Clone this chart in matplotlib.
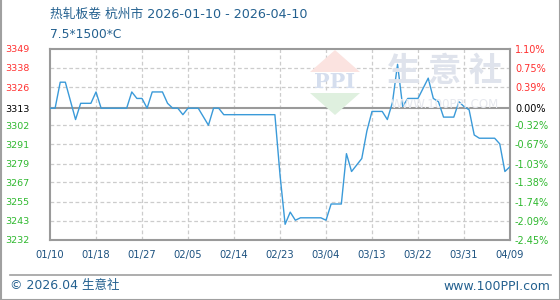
import matplotlib
matplotlib.use("Agg")
import matplotlib.pyplot as plt
from matplotlib.patches import Polygon
from datetime import date, timedelta

plt.rcParams['font.family'] = ['DejaVu Sans', 'Noto Sans CJK SC']

# price series (vertices), day offset from 2026-01-10
days = [0, 1, 2, 3, 5, 6, 8, 9, 10, 15, 16, 17, 18, 19, 20, 22, 23, 24, 25, 26,
        27, 29, 31, 32, 33, 34, 44, 45, 46, 47, 48, 49, 53, 54, 55, 57, 58, 59,
        61, 62, 63, 65, 66, 67, 68, 69, 70, 72, 74, 75, 76, 77, 79, 80, 81, 82,
        83, 84, 87, 88, 89, 90]
prices = [3313, 3313, 3329, 3329, 3306, 3316, 3316, 3323, 3313, 3313, 3323, 3319,
          3319, 3313, 3323, 3323, 3316, 3313, 3313, 3309, 3313, 3313, 3302.5, 3313,
          3313, 3309, 3309, 3272, 3241.5, 3249, 3244, 3245.5, 3245.5, 3244, 3254,
          3254, 3285, 3274, 3282, 3299, 3311, 3311, 3306, 3316.5, 3340, 3314, 3319,
          3319, 3331.5, 3319, 3317, 3307.5, 3307.5, 3317, 3314, 3312, 3296.5,
          3294.5, 3294.5, 3291, 3274, 3277]

start = date(2026, 1, 10)
base_price = 3313
pct_ticks = [1.10, 0.75, 0.39, 0.00, -0.32, -0.67, -1.03, -1.38, -1.74, -2.09, -2.45]
price_labels = ['3349', '3338', '3326', '3313', '3302', '3291', '3279', '3267',
                '3255', '3243', '3232']
x_labels = ['01/10', '01/18', '01/27', '02/05', '02/14', '02/23', '03/04',
            '03/13', '03/22', '03/31', '04/09']

title = '热轧板卷 杭州市 2026-01-10 - 2026-04-10'
subtitle = '7.5*1500*C'

W, H = 560, 300
fig = plt.figure(figsize=(W / 100, H / 100), dpi=100)
fig.patch.set_facecolor('white')
ax = fig.add_axes([50 / W, 60 / H, 460 / W, 191 / H])

dates = [start + timedelta(days=d) for d in days]
xs = [(d - start).days for d in dates]

tick_vals = [base_price * (1 + p / 100) for p in pct_ticks]
ax.set_ylim(tick_vals[-1], tick_vals[0])
ax.set_xlim(0, 90)

# watermark
wm = '#dfe3ec'
fig.text(445 / W, 1 - 71 / H, '生 意 社', fontsize=24, color=wm, ha='center',
         va='center', fontweight='bold', zorder=0, family='Noto Sans CJK SC')
fig.text(445 / W, 1 - 105 / H, 'WWW.100PPI.COM', fontsize=8.5, color='#e6e8ee',
         ha='center', va='center', zorder=0)
tri_up = Polygon([[310 / W, 1 - 72 / H], [335 / W, 1 - 50 / H], [360 / W, 1 - 72 / H]],
                 closed=True, transform=fig.transFigure, facecolor='#fbe3e0',
                 edgecolor='none', zorder=0)
tri_dn = Polygon([[310 / W, 1 - 93 / H], [335 / W, 1 - 115 / H], [360 / W, 1 - 93 / H]],
                 closed=True, transform=fig.transFigure, facecolor='#dff0df',
                 edgecolor='none', zorder=0)
fig.patches.extend([tri_up, tri_dn])
fig.text(335 / W, 1 - 82 / H, 'PPI', fontsize=15, color='#d5deee', ha='center',
         va='center', family='DejaVu Serif', fontweight='bold', zorder=0)
ax.patch.set_alpha(0)

# grid
for i, v in enumerate(tick_vals):
    if pct_ticks[i] == 0:
        ax.axhline(v, color='#9a9a9a', lw=1.5, zorder=2)
    elif 0 < i < len(tick_vals) - 1:
        ax.axhline(v, color='#cccccc', lw=0.9, ls=(0, (3, 2)), zorder=1)
for k in range(1, 10):
    ax.axvline(k * 9, color='#cccccc', lw=0.9, ls=(0, (3, 2)), zorder=1)

ax.plot(xs, prices, color='#3a9ad9', lw=1.0, zorder=3)

for s in ax.spines.values():
    s.set_color('#9a9a9a')
    s.set_linewidth(1.5)

ax.set_yticks(tick_vals)
ax.set_yticklabels(price_labels)
ax.tick_params(axis='y', length=0, pad=15, labelsize=6.8)
ax.set_xticks([k * 9 for k in range(11)])
ax.set_xticklabels(x_labels)
ax.tick_params(axis='x', length=0, pad=7, labelsize=7.2, labelcolor='#1d5280')

ax2 = ax.twinx()
ax2.set_ylim(ax.get_ylim())
ax2.set_yticks(tick_vals)
ax2.set_yticklabels(['%.2f%%' % p for p in pct_ticks])
ax2.tick_params(axis='y', length=0, pad=3.6, labelsize=7)
for s in ax2.spines.values():
    s.set_visible(False)

for i, p in enumerate(pct_ticks):
    c = '#ff3030' if p > 0 else ('#000000' if p == 0 else '#2eb82e')
    ax.get_yticklabels()[i].set_color(c)
    ax2.get_yticklabels()[i].set_color(c)

# titles
fig.text(50 / W, 1 - 14 / H, title, fontsize=9.2, color='#23608f', va='center')
fig.text(50 / W, 1 - 34 / H, subtitle, fontsize=8.8, color='#23608f', va='center')

# footer
fig.add_artist(plt.Line2D([10 / W, 551 / W], [1 - 275 / H, 1 - 275 / H],
                          transform=fig.transFigure, color='#a0a0a0', lw=1.2))
fig.text(10 / W, 1 - 286 / H, '© 2026.04 生意社', fontsize=9, color='#23608f',
         va='center')
fig.text(550 / W, 1 - 286 / H, 'www.100PPI.com', fontsize=9, color='#23608f',
         va='center', ha='right')
# outer frame
for xy in ([[0.5 / W, 0.5 / W], [0, 1]], [[1 - 0.5 / W, 1 - 0.5 / W], [0, 1]],
           [[0, 1], [0.5 / H, 0.5 / H]]):
    fig.add_artist(plt.Line2D(xy[0], xy[1], transform=fig.transFigure,
                              color='#a0a0a0', lw=1.5))

fig.savefig('out.png', dpi=100)
